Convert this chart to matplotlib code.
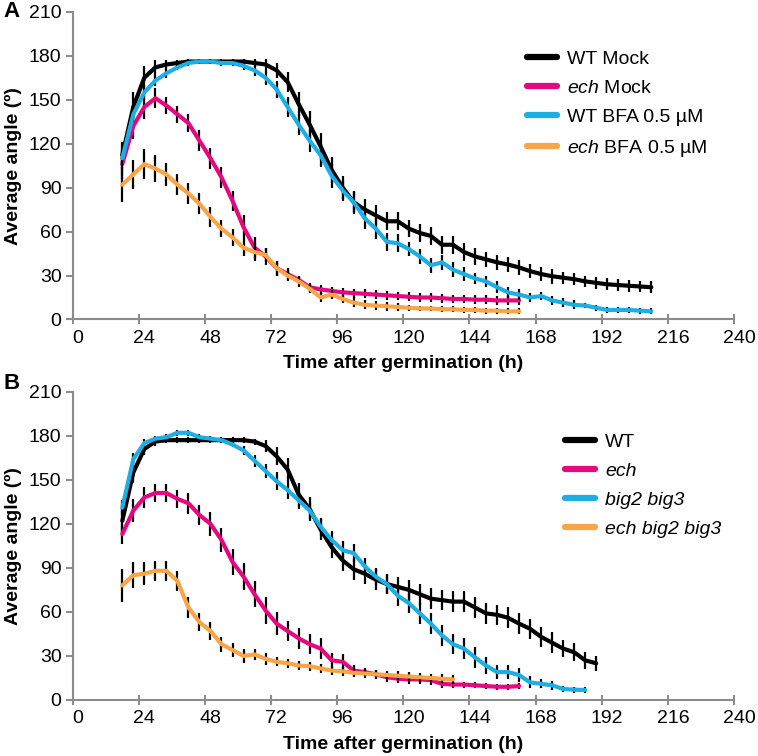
import numpy as np
import matplotlib.pyplot as plt
from matplotlib.transforms import ScaledTranslation

plt.rcParams['font.family'] = ['Liberation Sans', 'DejaVu Sans']
plt.rcParams['mathtext.fontset'] = 'custom'
plt.rcParams['mathtext.rm'] = 'Liberation Sans'
plt.rcParams['mathtext.it'] = 'Liberation Sans:italic'

# panel A: hours after germination, average angle, error
tA_long = np.arange(18, 211, 4)
tA_short = np.arange(18, 163, 4)

wt_mock = [112, 145, 165, 172, 174, 175, 176, 176, 176, 176, 176, 176, 175, 174, 170, 162,
           147, 133, 118, 102, 90, 80, 75, 71, 67, 67, 62, 59, 57, 51, 51, 46, 43, 41, 39,
           37.5, 35.5, 33, 31, 29.5, 28.5, 27.5, 26, 25, 24, 23.5, 23, 22.5, 22]
wt_mock_err = [9, 10, 8, 5, 3, 2, 2, 2, 2, 2, 2, 2, 3, 4, 5, 7, 8, 9, 9, 9, 8, 8, 7, 7, 6,
               6, 6, 6, 6, 6, 6, 6, 6, 5, 5, 5, 5, 5, 5, 5, 4, 4, 4, 4, 4, 4, 4, 4, 4]

ech_mock = [106, 132, 145, 151, 146, 140, 134, 122, 110, 97, 81, 63, 49, 43, 35, 31, 27, 22,
            20.5, 19.5, 18.5, 18, 17.5, 17, 16.5, 16, 15.5, 15, 15, 14.5, 14, 14, 13.5, 13.5,
            13, 13, 13]
ech_mock_err = [10, 9, 8, 7, 6, 6, 6, 7, 7, 7, 7, 8, 7, 6, 5, 4, 3, 3, 3, 3, 3, 3, 3, 3, 3,
                3, 3, 3, 3, 3, 3, 3, 3, 3, 3, 3, 3]

wt_bfa = [110, 140, 155, 163, 168, 172, 175, 176, 176, 175, 175, 173, 170, 165, 157, 145, 133,
          122, 112, 98, 88, 80, 69, 62, 53, 52, 48, 43, 37, 39, 34, 31, 28, 26, 22, 18.5, 17,
          15, 16, 13, 11.5, 10, 9.5, 8, 6.5, 6.5, 6.5, 6, 5.5]
wt_bfa_err = [5, 5, 5, 4, 3, 2, 2, 2, 2, 2, 2, 3, 4, 5, 6, 7, 7, 8, 8, 8, 7, 7, 7, 7, 6, 6,
              5, 5, 5, 5, 5, 5, 4, 4, 4, 4, 4, 3, 3, 3, 3, 3, 2, 2, 2, 2, 2, 2, 2]

ech_bfa = [92, 99, 106, 103, 99, 92, 86, 79, 70, 62, 56, 49, 46, 44, 35, 30, 26, 21, 15, 17,
           14, 11.5, 10, 9.5, 9, 8.5, 8, 7.5, 7.5, 7, 7, 6.5, 6.5, 6, 6, 5.5, 5.5]
ech_bfa_err = [12, 10, 10, 9, 8, 7, 7, 7, 7, 6, 6, 6, 6, 5, 5, 4, 4, 3, 3, 3, 3, 3, 3, 3, 3,
               3, 2, 2, 2, 2, 2, 2, 2, 2, 2, 2, 2]

# panel B
tB_wt = np.arange(18, 191, 4)
tB_ech = np.arange(18, 163, 4)
tB_big = np.arange(18, 187, 4)
tB_triple = np.arange(18, 139, 4)

wt = [122, 155, 171, 176, 177, 177, 177, 177, 177, 177, 177, 177, 176, 173, 166, 157, 140,
      130, 116, 104, 95, 89, 86, 82, 79, 77, 75, 72, 69, 68, 67, 67, 63, 59, 58, 56, 52, 48.5,
      43, 39, 35, 32.5, 27, 25]
wt_err = [8, 7, 4, 3, 2, 2, 2, 2, 2, 2, 2, 2, 2, 4, 6, 8, 8, 8, 7, 7, 7, 7, 7, 7, 7, 7, 7, 7,
          7, 7, 7, 7, 7, 7, 7, 7, 7, 7, 7, 7, 6, 6, 6, 5]

ech = [113, 129, 138, 141, 141, 137, 134, 126, 120, 109, 94, 84, 72, 61, 52, 47, 42, 38, 35,
       27, 26, 20, 19, 17.5, 15.5, 14.5, 14, 14, 13.5, 11, 10.5, 10.5, 10, 9.5, 9, 9, 9.5]
ech_err = [7, 8, 7, 6, 6, 6, 7, 7, 8, 8, 9, 9, 9, 9, 8, 7, 7, 7, 7, 5, 5, 4, 3, 3, 3, 3, 3,
           3, 3, 3, 2, 2, 2, 2, 2, 2, 2]

big = [131, 164, 175, 178, 179, 182, 182, 179, 178, 177, 174, 170, 163, 156, 149, 143, 136,
       129, 118, 109, 102, 100, 91, 84, 79, 71, 66, 59, 52, 44, 38, 35, 29, 23.5, 19, 19, 17,
       12, 11, 10, 7.5, 7, 6.8]
big_err = [5, 4, 3, 2, 2, 2, 2, 2, 2, 2, 2, 3, 4, 5, 6, 6, 6, 6, 6, 6, 6, 6, 6, 6, 7, 7, 7, 7,
           7, 7, 7, 7, 7, 6, 5, 5, 5, 4, 3, 3, 2, 2, 2]

triple = [78, 85, 86, 88, 88, 81, 63, 53, 47, 38, 34, 30, 31, 28, 26, 25, 23.5, 23, 21.5, 20,
          19.5, 18.5, 18, 17.5, 17, 16.5, 16, 15.5, 15, 14.5, 14]
triple_err = [11, 9, 8, 7, 7, 7, 7, 6, 6, 5, 5, 5, 4, 4, 3, 3, 3, 3, 3, 3, 3, 3, 3, 3, 3, 3,
              3, 3, 3, 3, 3]

colors = ['#000000', '#E5097F', '#1FAEE3', '#F8A547']
xticks = np.arange(0, 241, 24)
yticks = np.arange(0, 211, 30)

fig = plt.figure(figsize=(7.58, 7.56), dpi=100)
axA = fig.add_axes([0.0959, 0.5774, 0.8724, 0.4071])
axB = fig.add_axes([0.0959, 0.0741, 0.8724, 0.4078])

seriesA = [(tA_long, wt_mock, wt_mock_err, 'WT Mock'),
           (tA_short, ech_mock, ech_mock_err, r'$\it{ech}$ Mock'),
           (tA_long, wt_bfa, wt_bfa_err, 'WT BFA 0.5 µM'),
           (tA_short, ech_bfa, ech_bfa_err, r'$\it{ech}$ BFA 0.5 µM')]
seriesB = [(tB_wt, wt, wt_err, 'WT'),
           (tB_ech, ech, ech_err, 'ech'),
           (tB_big, big, big_err, 'big2 big3'),
           (tB_triple, triple, triple_err, 'ech big2 big3')]

shift = ScaledTranslation(5 / 100, 0, fig.dpi_scale_trans)

for ax, series, lab, leg_x, leg_y, lab_y in [(axA, seriesA, 'A', 0.661, 0.931, 1.0),
                                             (axB, seriesB, 'B', 0.718, 0.922, 1.028)]:
    for i, (t, y, e, name) in enumerate(series):
        ax.errorbar(t, y, yerr=e, fmt='none', ecolor='black', elinewidth=1.6, capsize=0,
                    zorder=2 + 2 * i)
        ax.plot(t, y, color=colors[i], lw=3, label=name, zorder=3 + 2 * i,
                solid_capstyle='round', solid_joinstyle='round')
    ax.set_xlim(0, 240)
    ax.set_ylim(0, 210)
    ax.set_xticks(xticks)
    ax.set_yticks(yticks)
    for s in ['top', 'right']:
        ax.spines[s].set_visible(False)
    for s in ['left', 'bottom']:
        ax.spines[s].set_color('#8c8c8c')
        ax.spines[s].set_linewidth(1.5)
    ax.tick_params(colors='#8c8c8c', width=1.5, length=5, labelsize=14,
                   labelcolor='black')
    ax.tick_params(axis='x', direction='inout', length=7, pad=4)
    ax.tick_params(axis='y', pad=3)
    for t in ax.get_xticklabels():
        t.set_transform(t.get_transform() + shift)
    ax.set_xlabel('Time after germination (h)', fontsize=14, fontweight='bold', labelpad=6)
    ax.set_ylabel('Average angle (º)', fontsize=14, fontweight='bold', labelpad=5)
    ax.text(-0.105, lab_y, lab, transform=ax.transAxes, fontsize=16, fontweight='bold',
            ha='left', va='center')
    leg = ax.legend(loc='upper left', bbox_to_anchor=(leg_x, leg_y), frameon=False,
                    fontsize=14, handlelength=1.55, handletextpad=0.5, labelspacing=0.59)
    for h in leg.get_lines():
        h.set_linewidth(4.5)
    if ax is axB:
        for t in leg.get_texts()[1:]:
            t.set_fontstyle('italic')

fig.savefig('out.png', dpi=100)
